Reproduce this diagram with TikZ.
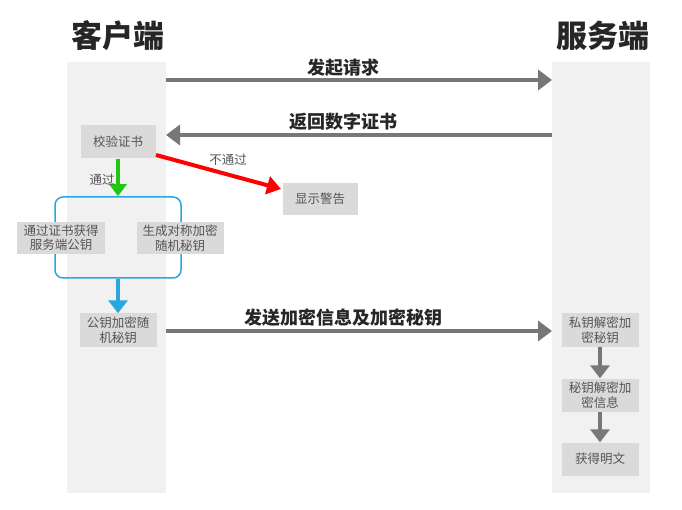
\documentclass[tikz,border=0pt]{standalone}
\usepackage{fontspec}
\setmainfont{Noto Sans CJK SC}
\usetikzlibrary{arrows.meta}
\definecolor{lane}{HTML}{F1F1F1}
\definecolor{boxg}{HTML}{DADADA}
\definecolor{arrg}{HTML}{777777}
\definecolor{txtg}{HTML}{555555}
\definecolor{bluec}{HTML}{29A8E0}
\definecolor{greenc}{HTML}{1EC814}
\tikzset{
  lanebox/.style={fill=lane,draw=none},
  stepbox/.style={fill=boxg,draw=none,text=txtg,font=\fontsize{12.5}{14.5}\selectfont,align=center,inner sep=0pt},
  bigarrow/.style={draw=arrg,line width=4pt,-{Triangle[length=14pt,width=20pt]}},
  midarrow/.style={line width=4pt,-{Triangle[length=13pt,width=19pt]}},
  title/.style={font=\fontsize{31}{33}\selectfont\bfseries,text=black!85},
  lbl/.style={font=\fontsize{18}{20}\selectfont\bfseries,text=black!85},
  small/.style={font=\fontsize{12.5}{14}\selectfont,text=txtg}
}
\begin{document}
\begin{tikzpicture}[x=1pt,y=-1pt]
\useasboundingbox (0,0) rectangle (682,510);
\fill[white] (0,0) rectangle (682,510);
\fill[lanebox] (67,62) rectangle (166,493);
\fill[lanebox] (552,62) rectangle (650,493);
\node[title] (tc) at (118,36) {客户端};
\node[title] (ts) at (603,36) {服务端};
% group (behind nodes)
\node[draw=bluec,line width=1.5pt,rounded corners=8pt,minimum width=126pt,minimum height=81pt,inner sep=0pt] (grp) at (118,237.5) {};
% client nodes
\node[stepbox,minimum width=75pt,minimum height=33pt] (check) at (118,142) {校验证书};
\node[stepbox,minimum width=75pt,minimum height=32pt] (warn) at (320,199) {显示警告};
\node[stepbox,minimum width=88pt,minimum height=32pt] (getpk) at (61,238) {通过证书获得\\服务端公钥};
\node[stepbox,minimum width=87pt,minimum height=32pt] (genk) at (180,238) {生成对称加密\\随机秘钥};
\node[stepbox,minimum width=77pt,minimum height=33pt] (enc) at (118,330) {公钥加密随\\机秘钥};
% server nodes
\node[stepbox,minimum width=77pt,minimum height=33pt] (dec1) at (600,330) {私钥解密加\\密秘钥};
\node[stepbox,minimum width=77pt,minimum height=33pt] (dec2) at (600,395) {秘钥解密加\\密信息};
\node[stepbox,minimum width=77pt,minimum height=33pt] (plain) at (600,459) {获得明文};
% coordinates for lane edges
\coordinate (c1) at (166,80);
\coordinate (s1) at (552,80);
\coordinate (s2) at (552,135);
\coordinate (c2) at (166,135);
\coordinate (c3) at (166,331);
\coordinate (s3) at (552,331);
\coordinate (rs) at (156,155);
\coordinate (rt) at (281,189);
\draw[bigarrow] (c1) -- (s1);
\node[lbl] (l1) at (343,68) {发起请求};
\draw[bigarrow] (s2) -- (c2);
\node[lbl] (l2) at (343,122) {返回数字证书};
\draw[bigarrow] (c3) -- (s3);
\node[lbl] (l3) at (343,318) {发送加密信息及加密秘钥};
% red
\draw[red,line width=4pt,-{Triangle[length=14pt,width=18pt]}] (rs) -- (rt);
\node[small] (ntg) at (228,160) {不通过};
% green
\draw[draw=greenc,midarrow,-{Triangle[length=12pt,width=17pt]}] (check.south) -- (grp.north);
\node[small] (tg) at (102,180) {通过};
% blue
\draw[draw=bluec,midarrow] (grp.south) -- (enc.north);
% server vertical
\draw[draw=arrg,midarrow] (dec1.south) -- (dec2.north);
\draw[draw=arrg,midarrow] (dec2.south) -- (plain.north);
\end{tikzpicture}
\end{document}
